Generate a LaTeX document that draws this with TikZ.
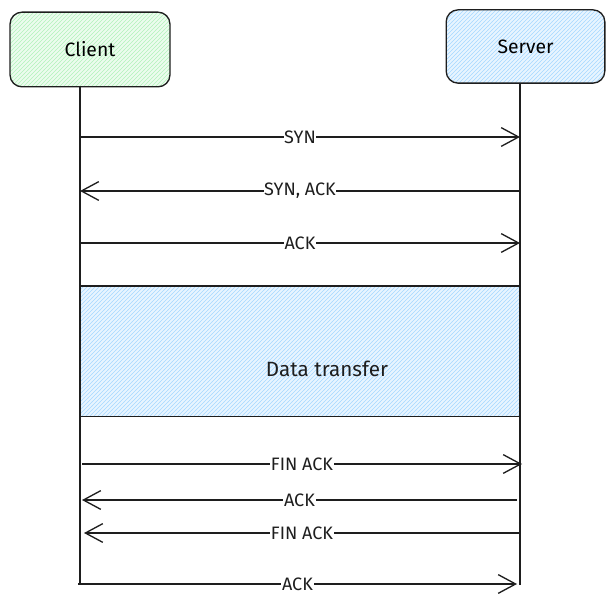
\documentclass[tikz,border=0pt]{standalone}
\usepackage{fontspec}
\setmainfont{Fira Sans}
\usetikzlibrary{arrows.meta,patterns}
\definecolor{ink}{HTML}{1E1E1E}
\definecolor{hgreen}{HTML}{B2F2BB}
\definecolor{hblue}{HTML}{A5D8FF}
\tikzset{
  party/.style={draw=ink, line width=1pt, rounded corners=9pt, minimum width=120pt, font=\fontsize{14.5}{16}\selectfont},
  greenhatch/.style={preaction={fill=hgreen!25}, pattern={north east lines}, pattern color=hgreen},
  bluehatch/.style={preaction={fill=hblue!25}, pattern={north east lines}, pattern color=hblue},
  lifeline/.style={draw=ink, line width=1pt},
  msg/.style={draw=ink, line width=1pt, -{Straight Barb[length=13pt,width=14pt,line width=1pt]}},
  lbl/.style={fill=white, inner sep=0.5pt, font=\fontsize{13.5}{15}\selectfont, text=ink}
}
\begin{document}
\begin{tikzpicture}[x=0.75pt,y=-0.75pt]
  \useasboundingbox (0,0) rectangle (615,606);
  % parties
  \node[party, greenhatch, minimum height=56pt] (client) at (90,49.5) {Client};
  \node[party, bluehatch, minimum width=119pt, minimum height=55pt] (server) at (525.5,46.5) {Server};
  % lifelines
  \coordinate (clienttop) at (80,87);
  \coordinate (servertop) at (520,83);
  \coordinate (clientend) at (80,585);
  \coordinate (serverend) at (520,585);
  \draw[lifeline] (clienttop) -- (clientend);
  \draw[lifeline] (servertop) -- (serverend);
  % data transfer
  \node[draw=ink, line width=1pt, bluehatch, minimum width=330pt, minimum height=98pt, inner sep=0pt] (data) at (300,351.5) {};
  \node[font=\fontsize{15.5}{17}\selectfont, text=ink] (datalabel) at (327,369) {Data transfer};
  % handshake
  \coordinate (c1) at (80,137);
  \coordinate (s1) at (520,137);
  \coordinate (c2) at (80,191);
  \coordinate (s2) at (520,191);
  \coordinate (c3) at (80,243);
  \coordinate (s3) at (520,243);
  \draw[msg] (c1) -- node[lbl] (syn) {SYN} (s1);
  \draw[msg] (s2) -- node[lbl] (synack) {SYN, ACK} (c2);
  \draw[msg] (c3) -- node[lbl] (ack) {ACK} (s3);
  % teardown
  \coordinate (c4) at (82,464);
  \coordinate (s4) at (522,464);
  \coordinate (c5) at (82,500);
  \coordinate (s5) at (517,500);
  \coordinate (c6) at (84,533);
  \coordinate (s6) at (520,533);
  \coordinate (c7) at (78,584);
  \coordinate (s7) at (517,584);
  \draw[msg] (c4) -- node[lbl] (finack) {FIN ACK} (s4);
  \draw[msg] (s5) -- node[lbl] (ackb) {ACK} (c5);
  \draw[msg] (s6) -- node[lbl] (finackb) {FIN ACK} (c6);
  \draw[msg] (c7) -- node[lbl] (ackc) {ACK} (s7);
\end{tikzpicture}
\end{document}
